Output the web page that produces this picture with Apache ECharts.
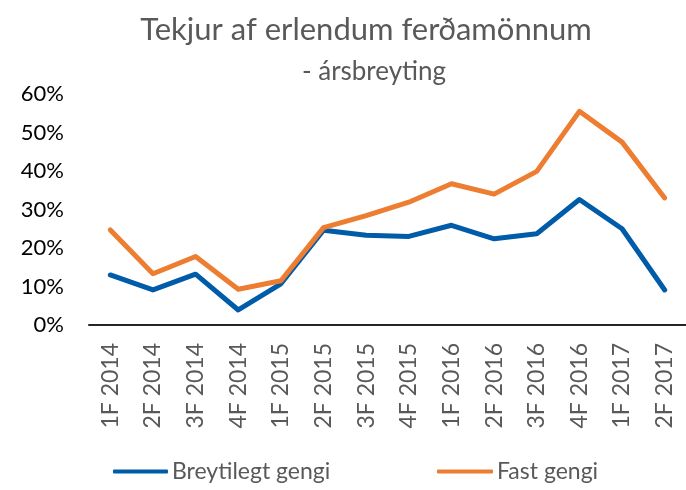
<!DOCTYPE html>
<html>
<head>
<meta charset="utf-8">
<script src="https://cdn.jsdelivr.net/npm/echarts@6/dist/echarts.min.js"></script>
<style>
  html, body { margin: 0; padding: 0; background: #fff; }
  #chart { width: 686px; height: 490px; }
</style>
</head>
<body>
<div id="chart"></div>
<script>
// quarters
var quarters = ["1F 2014", "2F 2014", "3F 2014", "4F 2014", "1F 2015", "2F 2015", "3F 2015",
  "4F 2015", "1F 2016", "2F 2016", "3F 2016", "4F 2016", "1F 2017", "2F 2017"];

// year-on-year change, %
var breytilegtGengi = [13.0, 9.1, 13.2, 3.9, 10.7, 24.6, 23.3, 23.0, 25.9, 22.4, 23.7, 32.6, 25.0, 9.1];
var fastGengi = [24.7, 13.3, 17.8, 9.3, 11.5, 25.3, 28.4, 31.9, 36.7, 34.0, 39.9, 55.5, 47.5, 33.0];

var seriesNames = ["Breytilegt gengi", "Fast gengi"];

var chart = echarts.init(document.getElementById("chart"));

var font = "Lato";
var gray = "#595959";

var option = {
  animation: false,
  textStyle: { fontFamily: font },
  title: [
    {
      text: "Tekjur af erlendum ferðamönnum",
      left: 361,
      textAlign: "center",
      top: 9,
      textStyle: { fontFamily: font, fontSize: 31, fontWeight: "normal", color: gray }
    },
    {
      text: "- ársbreyting",
      left: 369,
      textAlign: "center",
      top: 54,
      textStyle: { fontFamily: font, fontSize: 26, fontWeight: "normal", color: gray }
    }
  ],
  legend: [
    {
      data: [seriesNames[0]],
      left: 113,
      top: 460,
      padding: 0,
      icon: "roundRect",
      itemWidth: 55,
      itemHeight: 4,
      textStyle: { fontFamily: font, fontSize: 23, color: gray, padding: [0, 0, 0, -1] }
    },
    {
      data: [seriesNames[1]],
      left: 437,
      top: 460,
      padding: 0,
      icon: "roundRect",
      itemWidth: 56,
      itemHeight: 4,
      textStyle: { fontFamily: font, fontSize: 23, color: gray, padding: [0, 0, 0, -1] }
    }
  ],
  grid: {
    left: 89,
    right: 0,
    top: 94,
    bottom: 165,
    containLabel: false
  },
  xAxis: {
    type: "category",
    data: quarters,
    boundaryGap: true,
    axisLine: { lineStyle: { color: "#262626", width: 2 } },
    axisTick: { show: false },
    axisLabel: {
      rotate: 90,
      margin: 18,
      fontFamily: font,
      fontSize: 23,
      color: gray
    },
    splitLine: { show: false }
  },
  yAxis: {
    type: "value",
    min: 0,
    max: 60,
    interval: 10,
    axisLine: { show: false },
    axisTick: { show: false },
    splitLine: { show: false },
    axisLabel: {
      formatter: "{value}%",
      fontFamily: font,
      fontSize: 22,
      color: "#000",
      margin: 25
    }
  },
  series: [
    {
      name: seriesNames[0],
      type: "line",
      data: breytilegtGengi,
      symbol: "none",
      color: "#005ba8",
      lineStyle: { width: 5, color: "#005ba8", cap: "round", join: "round" },
      z: 2
    },
    {
      name: seriesNames[1],
      type: "line",
      data: fastGengi,
      symbol: "none",
      color: "#ed7d31",
      lineStyle: { width: 5, color: "#ed7d31", cap: "round", join: "round" },
      z: 3
    }
  ]
};

chart.setOption(option);
</script>
</body>
</html>
